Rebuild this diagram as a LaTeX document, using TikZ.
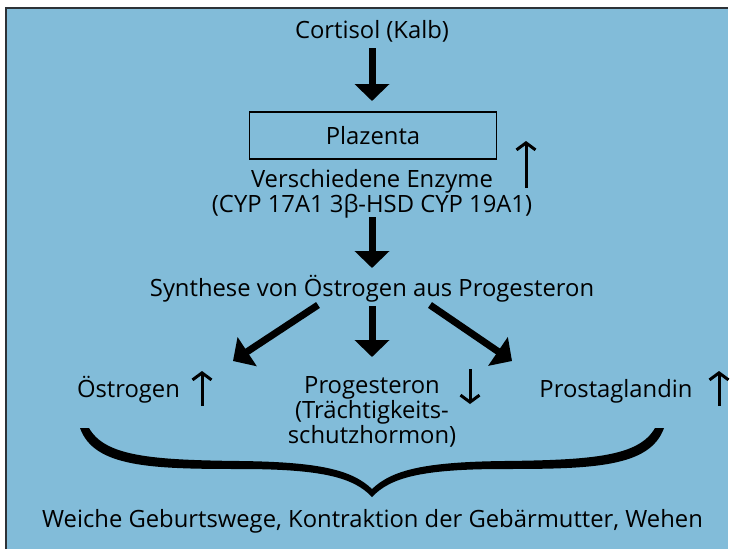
\documentclass[tikz,border=0pt]{standalone}
\usepackage{fontspec}
\setmainfont{Open Sans}
\usetikzlibrary{arrows.meta,calc}
\definecolor{bgblue}{RGB}{130,188,217}
\definecolor{framec}{RGB}{45,50,55}
\begin{document}
\begin{tikzpicture}[x=1pt,y=-1pt,
  txt/.style={font=\fontsize{23.8}{22}\selectfont, inner sep=0pt, anchor=base, align=center},
  big/.style={line width=7pt, -{Triangle[length=17pt,width=34pt]}},
  thinarrow/.style={line width=3pt, -{Straight Barb[length=7pt,width=19pt,line width=3pt]}},
  boxed/.style={draw, line width=1.8pt, minimum width=247pt, minimum height=47pt, inner sep=0pt, font=\fontsize{23.8}{22}\selectfont}
]
\useasboundingbox (0,0) rectangle (730,549);
\fill[white] (0,0) rectangle (730,549);
\fill[bgblue] (7,9) rectangle (728,549);
\draw[framec, line width=2pt] (6,549) -- (6,8) -- (728,8);

% nodes (base anchor = baseline of the last line)
\node[txt] (cortisol) at (372,38) {Cortisol (Kalb)};
\node[boxed] (plazenta) at (373,135.5) {Plazenta};
\node[txt] (enzyme) at (372,212) {Verschiedene Enzyme\\(CYP 17A1 3β-HSD CYP 19A1)};
\node[txt] (synth) at (372,296) {Synthese von Östrogen aus Progesteron};
\node[txt] (oest) at (128.5,397) {Östrogen};
\node[txt] (prog) at (372,443) {Progesteron\\(Trächtigkeits-\\schutzhormon)};
\node[txt] (prost) at (616,397) {Prostaglandin};
\node[txt] (effect) at (372.5,527) {Weiche Geburtswege, Kontraktion der Gebärmutter, Wehen};

% arrow end points
\coordinate (a1s) at (372,48);
\coordinate (a1e) at (372,101);
\coordinate (a2s) at (372,217);
\coordinate (a2e) at (372,268);
\coordinate (lds) at (318,305);
\coordinate (lde) at (233,361);
\coordinate (mds) at (372,306);
\coordinate (mde) at (372,357);
\coordinate (rds) at (430,305);
\coordinate (rde) at (512,361);

\draw[big] (a1s) -- (a1e);
\draw[big] (a2s) -- (a2e);
\draw[big] (lds) -- (lde);
\draw[big] (mds) -- (mde);
\draw[big] (rds) -- (rde);

% small trend arrows
\coordinate (enzUpB) at (526,188);
\coordinate (enzUpT) at (526,141);
\coordinate (oeUpB) at (202,406);
\coordinate (oeUpT) at (202,371);
\coordinate (prDnT) at (470,369);
\coordinate (prDnB) at (470,404);
\coordinate (psUpB) at (719,406);
\coordinate (psUpT) at (719,371);
\draw[thinarrow] (enzUpB) -- (enzUpT);
\draw[thinarrow] (oeUpB) -- (oeUpT);
\draw[thinarrow] (prDnT) -- (prDnB);
\draw[thinarrow] (psUpB) -- (psUpT);

% brace
\fill (80,428) -- (89,428)
  .. controls (105,456) and (150,460) .. (240,461)
  .. controls (320,462) and (352,470) .. (372,489)
  .. controls (392,470) and (424,462) .. (504,461)
  .. controls (594,460) and (639,456) .. (655,428)
  -- (664,428)
  .. controls (650,467) and (594,469) .. (504,469)
  .. controls (420,469) and (390,478) .. (372,497)
  .. controls (354,478) and (324,469) .. (240,469)
  .. controls (150,469) and (94,467) .. (80,428) -- cycle;
\end{tikzpicture}
\end{document}
